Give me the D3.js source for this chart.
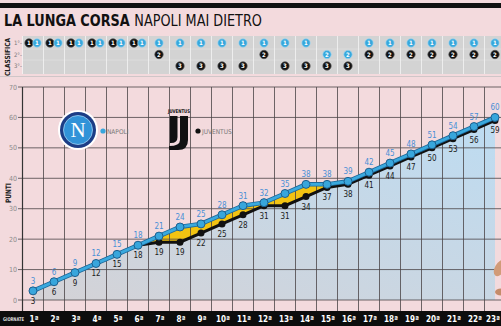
<!DOCTYPE html>
<html>
<head>
<meta charset="utf-8">
<script src="https://cdn.jsdelivr.net/npm/d3@7"></script>
<style>
  body { margin: 0; background: #f3dadd; }
  svg { display: block; }
  text { font-family: "Liberation Sans Narrow", "DejaVu Sans Condensed", "Roboto", sans-serif; }
</style>
</head>
<body>
<svg id="chart"></svg>
<script>
// data
var giornate = ["1ª","2ª","3ª","4ª","5ª","6ª","7ª","8ª","9ª","10ª","11ª","12ª",
                "13ª","14ª","15ª","16ª","17ª","18ª","19ª","20ª","21ª","22ª","23ª"];
var napoli   = [3,6,9,12,15,18,21,24,25,28,31,32,35,38,38,39,42,45,48,51,54,57,60];
var juventus = [3,6,9,12,15,18,19,19,22,25,28,31,31,34,37,38,41,44,47,50,53,56,59];
var posNapoli   = [1,1,1,1,1,1,1,1,1,1,1,1,1,1,2,2,1,1,1,1,1,1,1];
var posJuventus = [1,1,1,1,1,1,2,3,3,3,3,2,3,3,3,3,2,2,2,2,2,2,2];
var yTicks = [0,10,20,30,40,50,60,70];
var posLabels = ["1°","2°","3°"];

var W = 501, H = 326;
var svg = d3.select("#chart").attr("width", W).attr("height", H);

// background
svg.append("rect").attr("width", W).attr("height", H).attr("fill", "#f3dadd");

// scales
var x = d3.scaleBand().domain(giornate).range([22.5, 22.5 + 23 * 21]);
var cx = function(i) { return x(giornate[i]) + x.bandwidth() / 2; };
var y = d3.scaleLinear().domain([0, 70]).range([300, 87]);
var yPos = d3.scalePoint().domain([1, 2, 3]).range([43, 66]);

// gradient for the area
var defs = svg.append("defs");
var grad = defs.append("linearGradient").attr("id", "areaGrad")
  .attr("x1", 0).attr("y1", 1).attr("x2", 1).attr("y2", 0);
grad.append("stop").attr("offset", "0%").attr("stop-color", "#d4d2d6");
grad.append("stop").attr("offset", "100%").attr("stop-color", "#bddcf2");

// title: measured, then squeezed horizontally to the reference width
svg.append("rect").attr("x", 0).attr("y", 3).attr("width", W).attr("height", 5).attr("fill", "#111");
var tg = svg.append("g");
var t1 = tg.append("text").attr("x", 0).attr("y", 0)
  .style("font-size", "16px").style("font-weight", "bold").style("fill", "#111")
  .text("LA LUNGA CORSA");
var t1w = t1.node().getComputedTextLength();
var t2 = tg.append("text").attr("x", t1w + 5).attr("y", 0)
  .style("font-size", "16px").style("fill", "#111")
  .text("NAPOLI MAI DIETRO");
var totalW = t1w + 5 + t2.node().getComputedTextLength();
tg.attr("transform", "translate(4,26) scale(" + Math.min(1, 258 / totalW) + ",1)");

// classifica panel
svg.append("rect").attr("x", 23).attr("y", 36).attr("width", W - 23).attr("height", 38).attr("fill", "#d3d3d3");
[49, 60].forEach(function(v) {
  svg.append("line").attr("x1", 23).attr("x2", W).attr("y1", v).attr("y2", v)
    .attr("stroke", "#e2e2e2").attr("stroke-width", 0.6);
});
giornate.forEach(function(g) {
  svg.append("line").attr("x1", x(g)).attr("x2", x(g)).attr("y1", 36).attr("y2", 74)
    .attr("stroke", "#f4f4f4").attr("stroke-width", 0.8);
});
svg.append("line").attr("x1", 0).attr("x2", W).attr("y1", 76.5).attr("y2", 76.5)
  .attr("stroke", "#cfc6c8").attr("stroke-width", 1);
svg.append("text").attr("transform", "translate(10,57)rotate(-90)")
  .attr("text-anchor", "middle").attr("textLength", 38).attr("lengthAdjust", "spacingAndGlyphs")
  .style("font-size", "7px").style("font-weight", "bold").style("fill", "#222")
  .text("CLASSIFICA");
posLabels.forEach(function(p, i) {
  svg.append("text").attr("x", 22).attr("y", yPos(i + 1) + 2).attr("text-anchor", "end")
    .style("font-size", "6px").style("fill", "#777").text(p + "-");
});

function posMarker(xc, yc, n, fill) {
  svg.append("circle").attr("cx", xc).attr("cy", yc).attr("r", 4.2)
    .attr("fill", fill).attr("stroke", fill === "#111" ? "#555" : "#9fd6f0").attr("stroke-width", 0.7);
  svg.append("text").attr("x", xc).attr("y", yc + 2.2).attr("text-anchor", "middle")
    .style("font-size", "6px").style("font-weight", "bold").style("fill", "#fff").text(n);
}
giornate.forEach(function(g, i) {
  var same = posNapoli[i] === posJuventus[i];
  posMarker(cx(i) + (same ? -4 : 0), yPos(posJuventus[i]), posJuventus[i], "#111");
  posMarker(cx(i) + (same ? 4 : 0), yPos(posNapoli[i]), posNapoli[i], "#38a8dc");
});

// area under lines
var area = d3.area().x(function(d, i) { return cx(i); }).y0(y(0)).y1(function(d) { return y(d); });
svg.append("path").datum(napoli).attr("d", area).attr("fill", "url(#areaGrad)");

// yellow gap
var gap = d3.area().x(function(d, i) { return cx(i); })
  .y0(function(d, i) { return y(juventus[i]); })
  .y1(function(d) { return y(d); });
svg.append("path").datum(napoli).attr("d", gap).attr("fill", "#f2c312");

// grid
yTicks.forEach(function(t) {
  svg.append("line").attr("x1", 18).attr("x2", W).attr("y1", y(t)).attr("y2", y(t))
    .attr("stroke", "#4a4446").attr("stroke-width", 0.8);
  svg.append("text").attr("x", 17).attr("y", y(t) + 2.5).attr("text-anchor", "end")
    .style("font-size", "7px").style("fill", "#8c8c8c").text(t);
});
giornate.forEach(function(g) {
  svg.append("line").attr("x1", x(g)).attr("x2", x(g)).attr("y1", y(70)).attr("y2", 311)
    .attr("stroke", "#4a4446").attr("stroke-width", 0.8);
});
svg.append("line").attr("x1", 22.5).attr("x2", 22.5).attr("y1", y(70)).attr("y2", 311)
  .attr("stroke", "#333").attr("stroke-width", 1.2);
svg.append("text").attr("transform", "translate(11,193)rotate(-90)")
  .attr("text-anchor", "middle").attr("textLength", 20).attr("lengthAdjust", "spacingAndGlyphs")
  .style("font-size", "7.5px").style("font-weight", "bold").style("fill", "#222")
  .text("PUNTI");

// lines
var line = d3.line().x(function(d, i) { return cx(i); }).y(function(d) { return y(d); });
svg.append("path").datum(juventus).attr("d", line)
  .attr("fill", "none").attr("stroke", "#111").attr("stroke-width", 3);
svg.selectAll(".juvDot").data(juventus).enter().append("circle")
  .attr("cx", function(d, i) { return cx(i); }).attr("cy", function(d) { return y(d); })
  .attr("r", 3.5).attr("fill", "#111");
svg.append("path").datum(napoli).attr("d", line)
  .attr("fill", "none").attr("stroke", "#1e6a9c").attr("stroke-width", 4.5);
svg.append("path").datum(napoli).attr("d", line)
  .attr("fill", "none").attr("stroke", "#3aa9de").attr("stroke-width", 2.8);
svg.selectAll(".napDot").data(napoli).enter().append("circle")
  .attr("cx", function(d, i) { return cx(i); }).attr("cy", function(d) { return y(d); })
  .attr("r", 4).attr("fill", "#38a6dc").attr("stroke", "#1d5f8f").attr("stroke-width", 1);

// value labels
svg.selectAll(".napLab").data(napoli).enter().append("text")
  .attr("x", function(d, i) { return cx(i); }).attr("y", function(d) { return y(d) - 7; })
  .attr("text-anchor", "middle").style("font-size", "8px").style("fill", "#4a8fd6")
  .text(function(d) { return d; });
svg.selectAll(".juvLab").data(juventus).enter().append("text")
  .attr("x", function(d, i) { return cx(i); }).attr("y", function(d) { return y(d) + 13; })
  .attr("text-anchor", "middle").style("font-size", "8px").style("fill", "#1a1a1a")
  .text(function(d) { return d; });

// legend: Napoli
var nap = svg.append("g").attr("transform", "translate(78,130)");
nap.append("circle").attr("r", 20).attr("fill", "#fff");
nap.append("circle").attr("r", 18).attr("fill", "#1c3d86");
nap.append("circle").attr("r", 14.5).attr("fill", "#3193d8").attr("stroke", "#9fd0f2").attr("stroke-width", 0.8);
nap.append("text").attr("y", 7).attr("text-anchor", "middle")
  .style("font-family", "'Liberation Serif', serif").style("font-size", "21px").style("fill", "#fff").text("N");
svg.append("circle").attr("cx", 103).attr("cy", 131).attr("r", 2.6).attr("fill", "#38a6dc");
svg.append("text").attr("x", 107).attr("y", 133.5).style("font-size", "6.5px").style("fill", "#777").text("NAPOLI");

// legend: Juventus
var juv = svg.append("g");
juv.append("text").attr("x", 179).attr("y", 113).attr("text-anchor", "middle")
  .attr("textLength", 22).attr("lengthAdjust", "spacingAndGlyphs")
  .style("font-size", "5px").style("font-weight", "bold").style("fill", "#111").text("JUVENTUS");
juv.append("path").attr("d", "M180,116 L188,116 L188,140 Q188,150 178,150 L169,150 L169,146 Q180,146 180,140 Z").attr("fill", "#111");
juv.append("path").attr("d", "M170,116 L177.5,116 L177.5,137 Q177.5,143 171,143 L170,143 Z").attr("fill", "#111");
svg.append("circle").attr("cx", 198).attr("cy", 131).attr("r", 2.6).attr("fill", "#111");
svg.append("text").attr("x", 202).attr("y", 133.5).style("font-size", "6.5px").style("fill", "#777").text("JUVENTUS");

// hand in the corner
svg.append("ellipse").attr("cx", 500).attr("cy", 268).attr("rx", 5).attr("ry", 9)
  .attr("transform", "rotate(30,500,268)").attr("fill", "#d19b78");
svg.append("ellipse").attr("cx", 501).attr("cy", 292).attr("rx", 6).attr("ry", 3.5).attr("fill", "#c48c6a");

// bottom bar
svg.append("rect").attr("x", 0).attr("y", 311).attr("width", W).attr("height", 15).attr("fill", "#0d0d0d");
svg.append("text").attr("x", 3).attr("y", 321).attr("textLength", 21).attr("lengthAdjust", "spacingAndGlyphs")
  .style("font-size", "5px").style("font-weight", "bold").style("fill", "#ddd").text("GIORNATE");
svg.selectAll(".xLab").data(giornate).enter().append("text")
  .attr("x", function(d, i) { return Math.min(cx(i) + 1, W - 8); }).attr("y", 322)
  .attr("text-anchor", "middle").style("font-size", "8px").style("font-weight", "bold").style("fill", "#fff")
  .text(function(d) { return d; });
</script>
</body>
</html>
